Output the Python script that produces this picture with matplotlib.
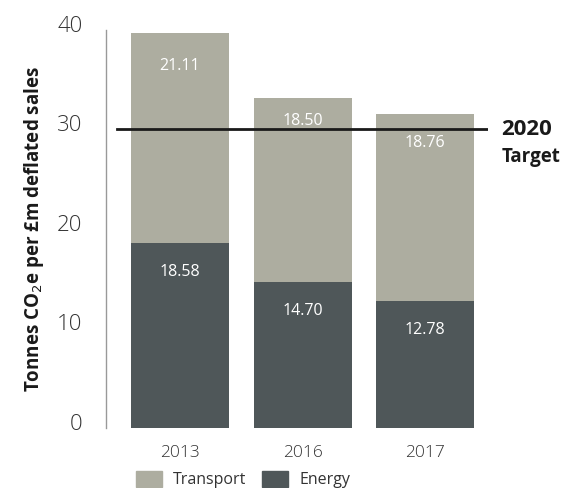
import matplotlib.pyplot as plt
import matplotlib.transforms as mtransforms
from matplotlib.patches import Patch

years = ['2013', '2016', '2017']
energy = [18.58, 14.70, 12.78]
transport = [21.11, 18.50, 18.76]
target = 30.0

c_transport = '#adada0'
c_energy = '#4f5759'
c_text = '#333333'

plt.rcParams['font.family'] = ['Open Sans', 'DejaVu Sans']

fig = plt.figure(figsize=(5.66, 4.88), dpi=100)
ax = fig.add_axes([106 / 566, 60 / 488, 382 / 566, 398 / 488])

x = list(range(len(years)))
ax.bar(x, energy, width=0.8, color=c_energy, zorder=2)
ax.bar(x, transport, width=0.8, bottom=energy, color=c_transport, zorder=2)

ax.set_xlim(-0.604, 2.514)
ax.set_ylim(0, 40)

# value labels, a bit below each segment's top
off_t = [3.3, 2.3, 2.9]
for i in x:
    ax.text(i, energy[i] - 2.9, f'{energy[i]:.2f}', ha='center', va='center',
            color='white', fontsize=11.5, zorder=3)
    top = energy[i] + transport[i]
    ax.text(i, top - off_t[i], f'{transport[i]:.2f}', ha='center', va='center',
            color='white', fontsize=11.5, zorder=3)

ax.axhline(target, xmin=0.029, xmax=1.0, color='#1a1a1a', lw=2, zorder=4)
ax.text(1.035, target, '2020', transform=ax.get_yaxis_transform(),
        ha='left', va='center', fontsize=16, fontweight='bold', color='#1a1a1a')
ax.text(1.035, target - 2.8, 'Target', transform=ax.get_yaxis_transform(),
        ha='left', va='center', fontsize=13.5, fontweight='bold', color='#1a1a1a')

for s in ['top', 'right', 'bottom']:
    ax.spines[s].set_visible(False)
ax.spines['left'].set_color('#999999')
ax.spines['left'].set_linewidth(1)

ax.set_yticks([0, 10, 20, 30, 40])
ax.tick_params(axis='y', length=0, pad=17, labelsize=16, labelcolor=c_text)
shift = mtransforms.ScaledTranslation(0, 6 / 100, fig.dpi_scale_trans)
for lab in ax.get_yticklabels():
    lab.set_transform(lab.get_transform() + shift)
ax.set_xticks(x)
ax.set_xticklabels(years)
ax.tick_params(axis='x', length=0, pad=12, labelsize=12.5, labelcolor=c_text)
for lab in ax.get_yticklabels() + ax.get_xticklabels():
    lab.set_fontweight('light')

ax.set_ylabel('Tonnes CO$_2$e per £m deflated sales', fontsize=13.5,
              fontweight='bold', color='#1a1a1a', labelpad=8)

handles = [Patch(color=c_transport, label='Transport'),
           Patch(color=c_energy, label='Energy')]
fig.legend(handles=handles, loc='lower left', bbox_to_anchor=(122 / 566, -0.03),
           ncol=2, frameon=False, fontsize=11.5, handlelength=1.6, handleheight=1.1,
           columnspacing=1.0, handletextpad=0.7, labelcolor=c_text)

fig.savefig('out.png', dpi=100)
